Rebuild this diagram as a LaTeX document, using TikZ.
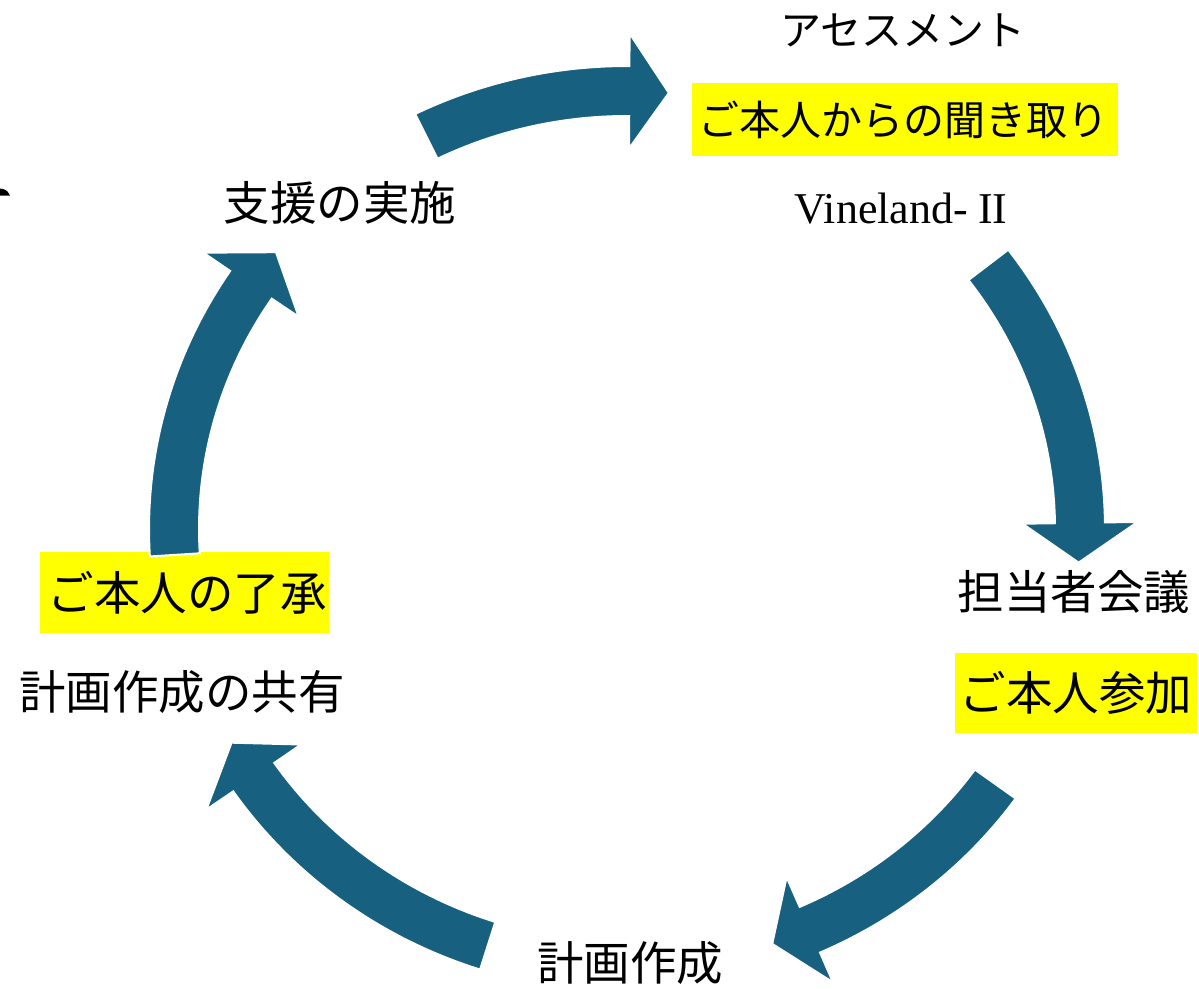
\documentclass[tikz,border=0pt]{standalone}
\usepackage{fontspec}
\setmainfont{Liberation Serif}
\newfontfamily\jpfont{Noto Sans CJK JP}
\definecolor{arrowblue}{RGB}{23,96,128}
\definecolor{hiyellow}{RGB}{255,255,0}
\newcommand\cyclearrow[3]{%
  \path[fill=arrowblue, draw=white, line width=2pt, line join=miter]
   plot[domain=0:1, samples=60] ({627+478*cos((#1)+((#2)-(#1))*\x)},{529+463*sin((#1)+((#2)-(#1))*\x)})
   -- ({627+510.5*cos(#2)},{529+495.5*sin(#2)})
   -- ({627+453*cos(#3)},{529+438*sin(#3)})
   -- ({627+395.5*cos(#2)},{529+380.5*sin(#2)})
   -- plot[domain=0:1, samples=60] ({627+428*cos((#2)+((#1)-(#2))*\x)},{529+413*sin((#2)+((#1)-(#2))*\x)})
   -- cycle;}
\tikzset{
  biglabel/.style={font=\jpfont\fontsize{46.5}{50}\selectfont, inner sep=0pt},
  smalllabel/.style={font=\jpfont\fontsize{41}{45}\selectfont, inner sep=0pt},
  latinlabel/.style={font=\fontsize{44}{48}\selectfont, inner sep=0pt},
  hlbox/.style={fill=hiyellow, draw=none, inner sep=0pt}
}
\begin{document}
\begin{tikzpicture}[x=1pt,y=-1pt]
\useasboundingbox (0,0) rectangle (1199,988);
\fill[white] (0,0) rectangle (1199,988);
% yellow highlight boxes
\node[hlbox, minimum width=426pt, minimum height=73pt] (boxA) at (905,119.5) {};
\node[hlbox, minimum width=242pt, minimum height=80pt] (boxB) at (1076,693) {};
\node[hlbox, minimum width=289pt, minimum height=81pt] (boxC) at (184.5,592.5) {};
% cycle arrows
\cyclearrow{-116.3}{-89.7}{-84.7}
\cyclearrow{-37.1}{-0.8}{4.4}
\cyclearrow{35.6}{66.2}{71.3}
\cyclearrow{107.9}{145.5}{150.8}
\cyclearrow{176.6}{213.9}{219.2}
% labels
\node[smalllabel] (assess) at (903,30) {アセスメント};
\node[smalllabel] (kikitori) at (903,120) {ご本人からの聞き取り};
\node[latinlabel, anchor=base] (vineland) at (901,223) {Vineland- I\kern-1ptI};
\node[biglabel] (tanto) at (1074,592) {担当者会議};
\node[biglabel] (sanka) at (1076,693) {ご本人参加};
\node[biglabel] (keikaku) at (630,963) {計画作成};
\node[biglabel] (kyoyu) at (182,692) {計画作成の共有};
\node[biglabel] (ryosho) at (187,593) {ご本人の了承};
\node[biglabel] (shien) at (340,203) {支援の実施};
% clipped fragment at left edge
\fill[black] (0,188.5) -- (3,189) .. controls (7,190) and (9,193) .. (10,195.5) -- (0,195.5) -- cycle;
\end{tikzpicture}
\end{document}
